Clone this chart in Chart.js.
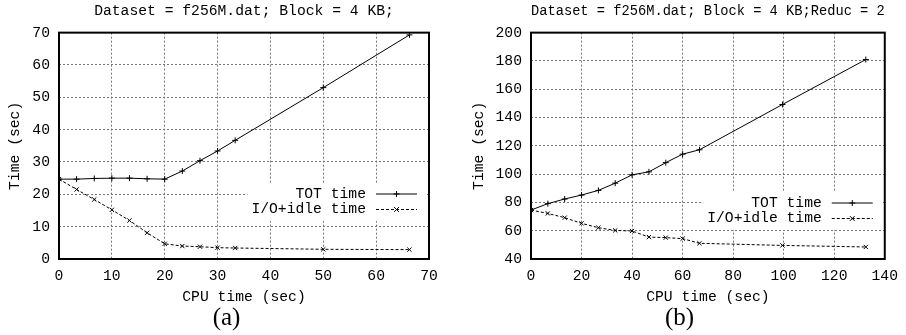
<!DOCTYPE html>
<html>
<head>
<meta charset="utf-8">
<script src="https://cdn.jsdelivr.net/npm/chart.js@4.4.0/dist/chart.umd.min.js"></script>
<style>
  body { margin: 0; background: #fff; }
  .wrap { position: absolute; top: 0; width: 453px; height: 335px; }
  .cap { position: absolute; width: 453px; top: 303px; text-align: center;
         font-family: 'Liberation Serif', 'DejaVu Serif', serif; font-size: 25px; color: #000; }
</style>
</head>
<body>
<div class="wrap" style="left:0"><canvas id="chartA" width="453" height="335"></canvas><div class="cap">(a)</div></div>
<div class="wrap" style="left:453px"><canvas id="chartB" width="453" height="335"></canvas><div class="cap">(b)</div></div>
<script>
// series names
var seriesNames = ['TOT time', 'I/O+idle time'];

// (a) block 4 KB
var cpuA = [0, 3.33, 6.67, 10, 13.33, 16.67, 20, 23.33, 26.67, 30, 33.33, 50, 66.3];
var totA = [24.7, 24.7, 24.9, 25.0, 25.0, 24.8, 24.7, 27.2, 30.4, 33.4, 36.7, 53.0, 69.3];
var ioA = [24.7, 21.5, 18.4, 15.2, 11.9, 8.1, 4.7, 4.0, 3.8, 3.5, 3.4, 3.0, 2.9];

// (b) block 4 KB, reduc = 2
var cpuB = [0, 6.67, 13.33, 20, 26.67, 33.33, 40, 46.67, 53.33, 60, 66.67, 99.5, 132.5];
var totB = [74.6, 79.1, 82.4, 85.2, 88.5, 93.6, 99.5, 101.6, 108.1, 114.1, 117.2, 149.2, 181.0];
var ioB = [74.6, 72.2, 69.2, 65.2, 62.1, 60.2, 59.8, 55.5, 55.1, 54.4, 51.1, 49.6, 48.5];

var MONO = "'Liberation Mono', 'Courier New', monospace";
var FS = 14.7;

function pts(xs, ys) {
    return xs.map(function (x, i) { return {x: x, y: ys[i]}; });
}

// frame + gnuplot style legend
var gnuPlugin = {
    id: 'gnu',
    beforeDatasetsDraw: function (chart) {
        var a = chart.chartArea, ctx = chart.ctx;
        ctx.save();
        ctx.strokeStyle = '#000';
        ctx.lineWidth = 2;
        ctx.strokeRect(a.left, a.top, a.right - a.left, a.bottom - a.top);
        ctx.restore();
    },
    afterDraw: function (chart, args, opts) {
        var a = chart.chartArea, ctx = chart.ctx;
        ctx.save();
        ctx.font = FS + 'px ' + MONO;
        var textRight = a.right - 63;
        var w = 0;
        chart.data.datasets.forEach(function (ds) { w = Math.max(w, ctx.measureText(ds.label).width); });
        ctx.fillStyle = '#fff';
        ctx.fillRect(textRight - w - 4, opts.top - 11, a.right - 2 - (textRight - w - 4), 38);
        chart.data.datasets.forEach(function (ds, i) {
            var y = opts.top + i * 15.5;
            ctx.fillStyle = '#000';
            ctx.textAlign = 'right';
            ctx.textBaseline = 'middle';
            ctx.fillText(ds.label, textRight, y);
            ctx.strokeStyle = '#000';
            ctx.lineWidth = 1;
            ctx.setLineDash(ds.borderDash || []);
            ctx.beginPath();
            ctx.moveTo(a.right - 53, y);
            ctx.lineTo(a.right - 12, y);
            ctx.stroke();
            ctx.setLineDash([]);
            var cx = a.right - 32.5, r = 3;
            ctx.beginPath();
            if (ds.pointStyle === 'cross') {
                ctx.moveTo(cx - r, y); ctx.lineTo(cx + r, y);
                ctx.moveTo(cx, y - r); ctx.lineTo(cx, y + r);
            } else {
                ctx.moveTo(cx - r * 0.8, y - r * 0.8); ctx.lineTo(cx + r * 0.8, y + r * 0.8);
                ctx.moveTo(cx - r * 0.8, y + r * 0.8); ctx.lineTo(cx + r * 0.8, y - r * 0.8);
            }
            ctx.stroke();
        });
        ctx.restore();
    }
};

function makeChart(id, title, xs, tot, io, xr, yr, lay) {
    var ctx = document.getElementById(id).getContext('2d');
    return new Chart(ctx, {
        type: 'line',
        data: {
            datasets: [{
                label: seriesNames[0], data: pts(xs, tot),
                borderColor: '#000', borderWidth: 1, pointStyle: 'cross',
                pointRadius: 3, pointBorderColor: '#000', pointBorderWidth: 1, tension: 0
            }, {
                label: seriesNames[1], data: pts(xs, io),
                borderColor: '#000', borderWidth: 1, borderDash: [3, 2], pointStyle: 'crossRot',
                pointRadius: 3, pointBorderColor: '#000', pointBorderWidth: 1, tension: 0
            }]
        },
        options: {
            responsive: false,
            animation: false,
            events: [],
            layout: {padding: {left: 0, right: lay.right, top: 0, bottom: 27}},
            plugins: {
                legend: {display: false},
                tooltip: {enabled: false},
                title: {
                    display: true, text: title, fullSize: false, color: '#000',
                    font: {family: MONO, size: FS, weight: 'normal'},
                    padding: {top: 2, bottom: 13}
                },
                gnu: {top: lay.legendTop}
            },
            scales: {
                x: {
                    type: 'linear', min: xr[0], max: xr[1],
                    ticks: {stepSize: xr[2], color: '#000', padding: 8, font: {family: MONO, size: FS}},
                    grid: {color: '#777', lineWidth: 1, drawTicks: false},
                    border: {display: false, dash: [2, 2]},
                    title: {display: true, text: 'CPU time (sec)', color: '#000',
                        font: {family: MONO, size: FS}, padding: {top: 4, bottom: 2}},
                    afterFit: function (s) { s.height = 49; }
                },
                y: {
                    min: yr[0], max: yr[1],
                    ticks: {stepSize: yr[2], color: '#000', padding: 9, font: {family: MONO, size: FS}},
                    grid: {color: '#777', lineWidth: 1, drawTicks: false},
                    border: {display: false, dash: [2, 2]},
                    title: {display: true, text: 'Time (sec)', color: '#000',
                        font: {family: MONO, size: FS}, padding: {top: lay.ytPad, bottom: 0}},
                    afterFit: function (s) { s.width = lay.left; }
                }
            }
        },
        plugins: [gnuPlugin]
    });
}

makeChart('chartA', 'Dataset = f256M.dat; Block = 4 KB;', cpuA, totA, ioA,
    [0, 70, 10], [0, 70, 10], {left: 59, right: 24, legendTop: 194, ytPad: 6});
makeChart('chartB', 'Dataset = f256M.dat; Block = 4 KB;Reduc = 2', cpuB, totB, ioB,
    [0, 140, 20], [40, 200, 20], {left: 78, right: 15, legendTop: 203, ytPad: 17});
</script>
</body>
</html>
